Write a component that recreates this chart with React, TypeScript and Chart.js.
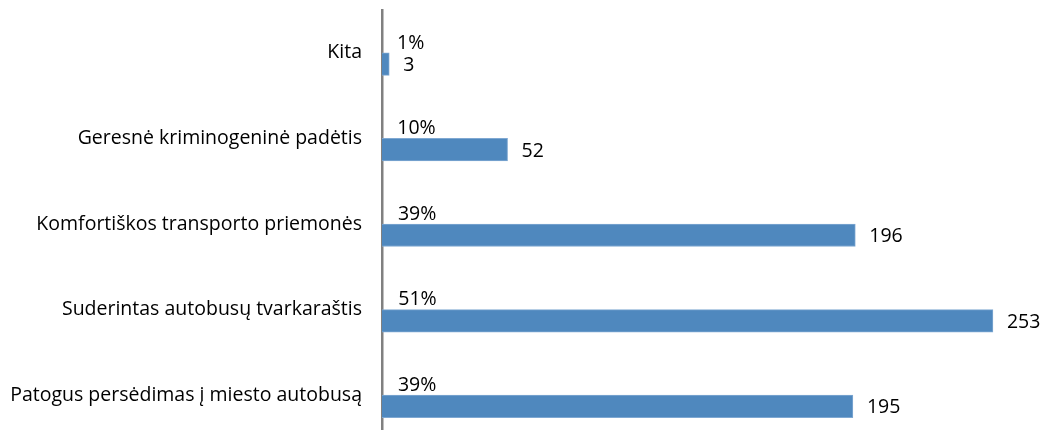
import React, { useEffect, useRef } from 'react';
import { Chart, registerables } from 'chart.js';

Chart.register(...registerables);

// Survey answers, top to bottom
const categories = [
  'Kita',
  'Geresnė kriminogeninė padėtis',
  'Komfortiškos transporto priemonės',
  'Suderintas autobusų tvarkaraštis',
  'Patogus persėdimas į miesto autobusą',
];

// Number of respondents per answer
const counts = [3, 52, 196, 253, 195];

// Share of respondents per answer, percent
const shares = [1, 10, 39, 51, 39];

const FONT_FAMILY = '"Open Sans", Lato, sans-serif';
const FONT_SIZE = 19.5;

export default function App() {
  const canvasRef = useRef<HTMLCanvasElement>(null);

  useEffect(() => {
    const canvas = canvasRef.current;
    if (!canvas) return;

    // Writes the share label past the (near-zero) share bar and the count past each count bar
    const valueLabels = {
      id: 'valueLabels',
      afterDatasetsDraw(chart: any) {
        const ctx = chart.ctx as CanvasRenderingContext2D;
        ctx.save();
        ctx.font = `${FONT_SIZE}px ${FONT_FAMILY}`;
        ctx.fillStyle = '#000000';
        ctx.textAlign = 'left';
        ctx.textBaseline = 'alphabetic';
        const shareMeta = chart.getDatasetMeta(0);
        const countMeta = chart.getDatasetMeta(1);
        shareMeta.data.forEach((bar: any, i: number) => {
          ctx.fillText(`${shares[i]}%`, bar.x + 15, bar.y + 7);
        });
        countMeta.data.forEach((bar: any, i: number) => {
          ctx.fillText(String(counts[i]), bar.x + 14, bar.y + 7);
        });
        ctx.restore();
      },
    };

    const chart = new Chart(canvas, {
      type: 'bar',
      data: {
        labels: categories,
        datasets: [
          {
            label: 'Dalis',
            data: shares.map((s) => s / 100),
            backgroundColor: 'rgba(0,0,0,0)',
            borderWidth: 0,
            barThickness: 22.5,
          },
          {
            label: 'Skaičius',
            data: counts,
            backgroundColor: '#4F88BE',
            borderColor: '#7FA8D2',
            borderWidth: 1,
            borderSkipped: 'start',
            barThickness: 22.5,
          },
        ],
      },
      options: {
        indexAxis: 'y',
        responsive: false,
        animation: false,
        layout: { padding: { top: 10, right: 11, bottom: 0, left: 0 } },
        plugins: {
          legend: { display: false },
          tooltip: { enabled: false },
        },
        scales: {
          x: {
            display: false,
            min: 0,
            max: 270,
          },
          y: {
            type: 'category',
            position: 'left',
            afterFit: (scale: any) => {
              scale.width = 382;
              scale.paddingTop = 0;
              scale.paddingBottom = 0;
            },
            grid: { display: false, drawTicks: false },
            border: { display: true, color: '#808080', width: 2.5 },
            ticks: {
              padding: 20,
              color: '#000000',
              font: { family: FONT_FAMILY, size: FONT_SIZE },
            },
          },
        },
      },
      plugins: [valueLabels],
    });

    return () => chart.destroy();
  }, []);

  return (
    <div
      style={{
        position: 'fixed',
        left: 0,
        top: 0,
        width: 1045,
        height: 430,
        overflow: 'hidden',
        background: '#ffffff',
      }}
    >
      <canvas ref={canvasRef} width={1045} height={438} style={{ display: 'block' }} />
    </div>
  );
}
